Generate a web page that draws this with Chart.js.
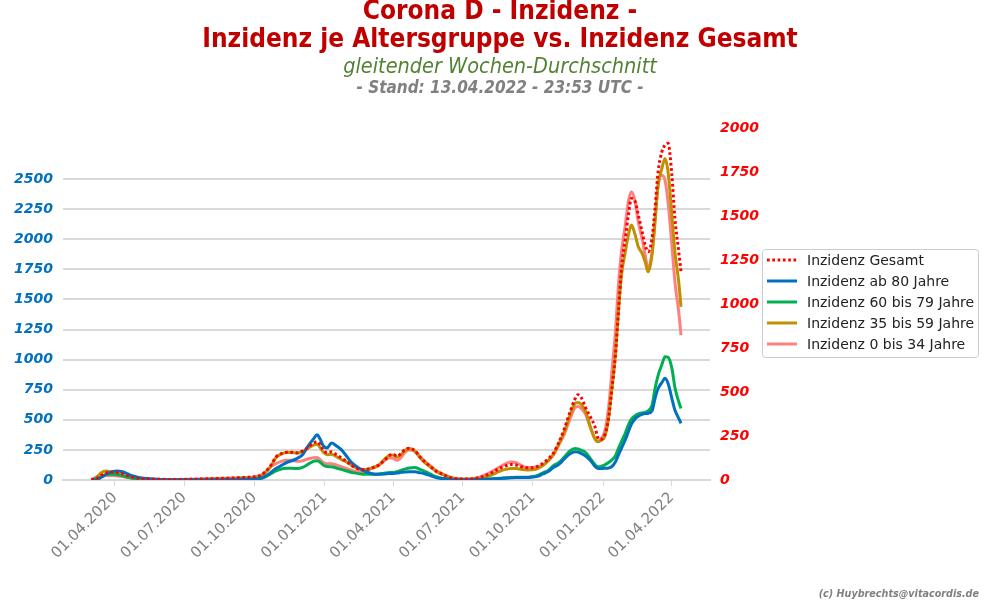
<!DOCTYPE html>
<html>
<head>
<meta charset="utf-8">
<script src="https://cdn.jsdelivr.net/npm/chart.js@4.4.1/dist/chart.umd.min.js"></script>
<style>
  html, body { margin: 0; padding: 0; background: #fff; }
  #wrap { width: 1000px; height: 600px; }
</style>
</head>
<body>
<div id="wrap"><canvas id="chart" width="1000" height="600"></canvas></div>
<script>
// days since 01.01.2020
const days = [60,67,74,80,87,94,101,108,115,122,136,150,170,190,210,230,245,260,274,281,288,295,302,309,316,323,330,337,344,351,356,360,364,369,375,381,388,395,402,409,416,423,430,437,444,451,456,461,466,471,477,484,491,498,505,512,519,526,533,540,554,568,582,596,603,610,617,624,631,638,645,652,659,666,673,680,687,694,698,702,708,714,720,724,727,733,738,742,747,751,755,760,764,768,773,777,782,786,790,795,799,803,808,812,816,821,825,830,833];

const gesamt = [1,8,28,40,44,43,35,24,15,10,6,4,3,4,6,9,11,14,18,25,45,80,130,150,157,157,154,165,185,210,218,200,172,155,160,145,125,104,80,65,60,62,72,85,110,140,145,135,150,172,180,168,130,100,75,50,35,22,12,7,5,13,35,68,80,88,85,75,70,70,78,95,120,155,215,290,380,460,485,470,410,360,305,240,230,256,350,502,710,956,1203,1373,1506,1600,1581,1506,1411,1335,1297,1373,1544,1752,1866,1903,1913,1733,1487,1297,1184];
const ab80 = [1,4,25,50,68,75,68,50,33,22,10,5,2,2,2,3,4,6,8,12,30,60,95,120,145,160,180,210,280,340,375,340,285,265,308,285,250,195,140,105,80,62,50,48,50,55,55,58,64,67,69,68,60,50,35,20,12,8,5,3,2,4,7,12,15,18,20,20,20,24,30,50,70,105,130,175,215,235,232,222,200,165,115,97,95,97,100,110,150,208,265,335,401,465,510,530,545,552,555,575,679,760,810,845,803,679,581,512,471];
const a60bis79 = [1,8,30,45,48,44,35,24,15,10,5,3,2,2,3,4,4,6,8,12,25,50,75,92,97,97,95,105,130,155,160,148,125,112,110,100,88,75,62,55,48,47,48,50,57,62,62,68,80,90,100,104,88,70,48,28,15,9,5,3,2,4,8,14,18,20,22,22,23,27,38,60,80,120,145,190,240,262,258,248,228,180,130,110,110,125,145,165,200,263,320,390,457,505,535,550,558,562,575,620,761,870,960,1025,1020,930,770,650,595];
const a35bis59 = [2,25,65,75,62,52,38,25,15,10,6,4,3,4,6,9,11,15,20,30,60,110,185,215,228,228,225,235,265,290,298,270,232,210,215,195,170,150,118,97,88,90,105,125,170,205,208,190,210,245,262,240,185,140,108,72,50,30,16,9,6,14,35,75,88,95,95,88,84,85,95,120,160,215,300,400,530,635,645,630,570,445,345,318,325,360,512,733,1038,1398,1703,1896,2035,2118,2035,1938,1883,1813,1730,1869,2145,2450,2589,2672,2561,2201,1896,1647,1439];
const a0bis34 = [2,12,30,38,38,34,28,20,12,8,5,4,4,6,10,14,16,20,26,36,65,110,135,155,165,165,155,160,175,185,188,170,145,135,135,125,110,95,80,68,70,85,100,120,160,185,180,165,185,230,250,240,195,150,115,80,55,35,20,11,8,22,60,110,135,150,145,120,105,103,110,125,160,210,295,380,500,600,610,595,545,440,345,320,335,401,595,872,1232,1620,1896,2118,2311,2395,2311,2145,2007,1869,1758,1896,2173,2450,2533,2492,2311,1952,1647,1398,1204];

const seriesNames = ['Inzidenz Gesamt', 'Inzidenz ab 80 Jahre', 'Inzidenz 60 bis 79 Jahre', 'Inzidenz 35 bis 59 Jahre', 'Inzidenz 0 bis 34 Jahre'];
const tickDays = [91, 182, 274, 366, 456, 547, 639, 731, 821];
const leftTicksMax = 2500;

const colors = ['#ff0000', '#0070c0', '#00b050', '#bf9000', '#ff8080'];

function pts(values) {
    return values.map((v, i) => ({ x: days[i], y: v }));
}

function dayLabel(d) {
    const dt = new Date(Date.UTC(2020, 0, 1) + d * 86400000);
    const dd = String(dt.getUTCDate()).padStart(2, '0');
    const mm = String(dt.getUTCMonth() + 1).padStart(2, '0');
    return dd + '.' + mm + '.' + dt.getUTCFullYear();
}

const headerPlugin = {
    id: 'header',
    afterDraw(chart) {
        const ctx = chart.ctx;
        ctx.save();
        ctx.textAlign = 'center';
        ctx.textBaseline = 'middle';
        ctx.fillStyle = '#c00000';
        ctx.font = "bold 26px 'DejaVu Sans Condensed', 'DejaVu Sans'";
        ctx.fillText('Corona D - Inzidenz -', 500, 12);
        ctx.fillText('Inzidenz je Altersgruppe vs. Inzidenz Gesamt', 500, 40);
        ctx.fillStyle = '#548235';
        ctx.font = "italic 21.5px 'DejaVu Sans Condensed', 'DejaVu Sans'";
        ctx.fillText('gleitender Wochen-Durchschnitt', 500, 67);
        ctx.fillStyle = '#808080';
        ctx.font = "bold italic 17px 'DejaVu Sans Condensed', 'DejaVu Sans'";
        ctx.fillText('- Stand: 13.04.2022 - 23:53 UTC -', 500, 89);
        ctx.textAlign = 'right';
        ctx.font = "bold italic 10.7px 'DejaVu Sans Condensed', 'DejaVu Sans'";
        ctx.fillText('(c) Huybrechts@vitacordis.de', 979, 594);
        ctx.restore();
    }
};

const legendPlugin = {
    id: 'boxLegend',
    afterDraw(chart) {
        const ctx = chart.ctx;
        ctx.save();
        ctx.fillStyle = 'rgba(255,255,255,0.85)';
        ctx.strokeStyle = '#cccccc';
        ctx.lineWidth = 1;
        ctx.beginPath();
        ctx.roundRect(762.5, 249.5, 216, 108, 3);
        ctx.fill();
        ctx.stroke();
        ctx.font = "14px 'DejaVu Sans'";
        ctx.textBaseline = 'middle';
        ctx.textAlign = 'left';
        chart.data.datasets.forEach((ds, i) => {
            const y = 260 + i * 21;
            ctx.strokeStyle = ds.borderColor;
            ctx.lineWidth = ds.borderWidth;
            ctx.setLineDash(ds.borderDash || []);
            ctx.beginPath();
            ctx.moveTo(767, y);
            ctx.lineTo(797, y);
            ctx.stroke();
            ctx.setLineDash([]);
            ctx.fillStyle = '#222222';
            ctx.fillText(ds.label, 807, y + 1);
        });
        ctx.restore();
    }
};

const allValues = [gesamt, ab80, a60bis79, a35bis59, a0bis34];

new Chart(document.getElementById('chart').getContext('2d'), {
    type: 'line',
    data: {
        datasets: allValues.map((vals, i) => ({
            label: seriesNames[i],
            data: pts(vals),
            yAxisID: i === 0 ? 'yR' : 'y',
            borderColor: colors[i],
            borderWidth: 3,
            borderDash: i === 0 ? [2.7, 2.6] : undefined,
            pointRadius: 0,
            fill: false,
            cubicInterpolationMode: 'monotone'
        }))
    },
    options: {
        responsive: false,
        animation: false,
        layout: { padding: { top: 128, right: 240, left: 0, bottom: 0 } },
        plugins: {
            legend: { display: false },
            title: { display: false },
            tooltip: { enabled: false }
        },
        scales: {
            x: {
                type: 'linear',
                min: 23,
                max: 871,
                afterBuildTicks: scale => { scale.ticks = tickDays.map(v => ({ value: v })); },
                afterFit: scale => { scale.height = 120; },
                ticks: {
                    autoSkip: false,
                    minRotation: 45,
                    maxRotation: 45,
                    color: '#808080',
                    font: { family: "'DejaVu Sans'", size: 15 },
                    callback: v => dayLabel(v)
                },
                grid: { drawOnChartArea: false, drawTicks: true, tickLength: 6, color: '#d9d9d9', lineWidth: 1 },
                border: { display: true, color: '#d9d9d9', width: 2 }
            },
            y: {
                position: 'left',
                min: 0,
                max: 2925,
                afterBuildTicks: scale => { scale.ticks = scale.ticks.filter(t => t.value <= leftTicksMax); },
                afterFit: scale => { scale.width = 63; },
                ticks: {
                    stepSize: 250,
                    padding: 10,
                    color: '#0070c0',
                    font: { family: "'DejaVu Sans'", size: 14, style: 'italic', weight: 'bold' },
                    callback: v => String(v)
                },
                grid: { color: '#d9d9d9', lineWidth: 2, drawTicks: false },
                border: { display: false }
            },
            yR: {
                position: 'right',
                min: 0,
                max: 2000,
                afterFit: scale => { scale.width = 50; },
                ticks: {
                    stepSize: 250,
                    padding: 10,
                    color: '#ff0000',
                    font: { family: "'DejaVu Sans'", size: 14, style: 'italic', weight: 'bold' },
                    callback: v => String(v)
                },
                grid: { display: false, drawTicks: false },
                border: { display: false }
            }
        }
    },
    plugins: [headerPlugin, legendPlugin]
});
</script>
</body>
</html>
